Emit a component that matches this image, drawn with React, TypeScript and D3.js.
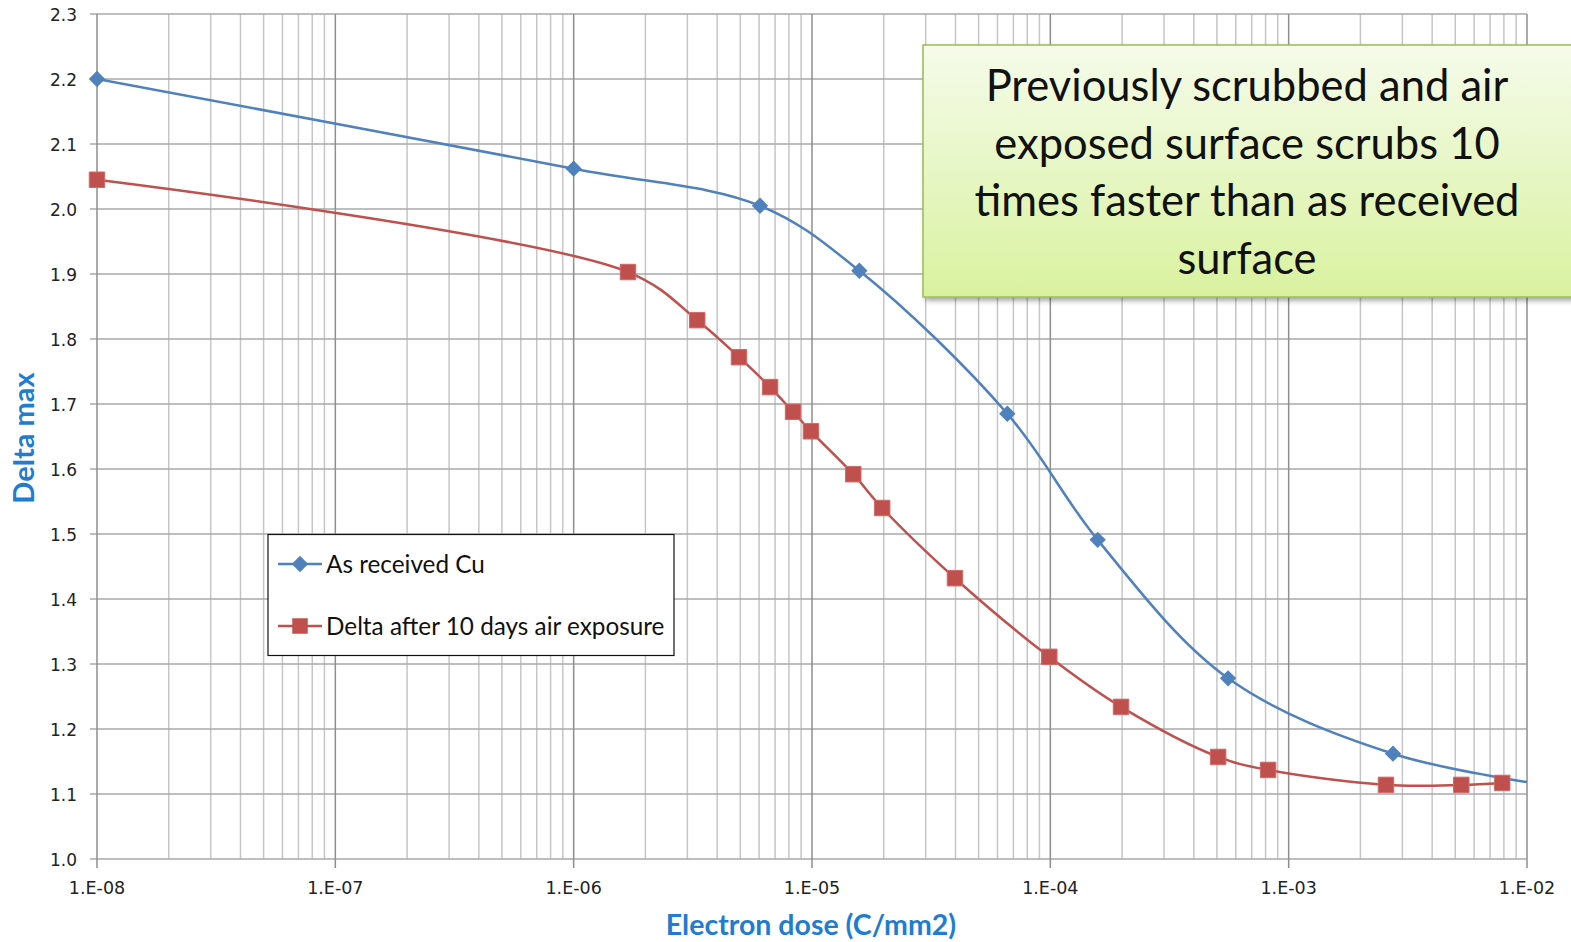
import * as d3 from 'd3';
import { useEffect, useRef } from 'react';

// data
const blueDose = [1e-8, 1e-6, 6.05e-6, 1.58e-5, 6.6e-5, 1.58e-4, 5.57e-4, 2.74e-3, 1.3e-2];
const blueDelta = [2.2, 2.062, 2.005, 1.905, 1.685, 1.491, 1.278, 1.162, 1.112];
const redDose = [1e-8, 1.69e-6, 3.3e-6, 4.94e-6, 6.67e-6, 8.33e-6, 9.9e-6, 1.49e-5, 1.97e-5, 3.98e-5, 9.9e-5, 1.98e-4, 5.06e-4, 8.2e-4, 2.56e-3, 5.3e-3, 7.87e-3];
const redDelta = [2.045, 1.903, 1.829, 1.772, 1.726, 1.688, 1.658, 1.592, 1.54, 1.432, 1.311, 1.234, 1.157, 1.137, 1.114, 1.114, 1.117];
const seriesNames = ['As received Cu', 'Delta after 10 days air exposure'];
const decades = [-8, -7, -6, -5, -4, -3, -2];
const yTicks = d3.range(10, 24).map(v => v / 10);
const noteLines = ['Previously scrubbed and air', 'exposed surface scrubs 10', 'times faster than as received', 'surface'];

const W = 1571, H = 942;
const L = 97, R = 1527, T = 14, B = 859;
const BLUE = '#4f81bd', RED = '#c0504d', TITLE = '#1f7dcf';

const App = () => {
    const svgRef = useRef<SVGSVGElement>(null);

    useEffect(() => {
        const svg = d3.select(svgRef.current);
        svg.selectAll('*').remove();

        const x = d3.scaleLog().domain([1e-8, 1e-2]).range([L, R]);
        const y = d3.scaleLinear().domain([1.0, 2.3]).range([B, T]);

        const defs = svg.append('defs');
        defs.append('clipPath').attr('id', 'plot').append('rect')
            .attr('x', L).attr('y', T).attr('width', R - L).attr('height', B - T);
        const grad = defs.append('linearGradient').attr('id', 'note').attr('x1', 0).attr('y1', 0).attr('x2', 0).attr('y2', 1);
        grad.append('stop').attr('offset', '0%').attr('stop-color', '#f5fbea');
        grad.append('stop').attr('offset', '100%').attr('stop-color', '#d9f29f');
        defs.append('filter').attr('id', 'shadow').attr('x', '-10%').attr('y', '-10%').attr('width', '130%').attr('height', '130%')
            .append('feDropShadow').attr('dx', 3).attr('dy', 3).attr('stdDeviation', 2.5)
            .attr('flood-color', '#000').attr('flood-opacity', 0.35);

        // minor vertical gridlines
        const minors: number[] = [];
        decades.slice(0, -1).forEach(d => {
            for (let k = 2; k <= 9; k++) minors.push(k * Math.pow(10, d));
        });
        svg.append('g').selectAll('line').data(minors).enter().append('line')
            .attr('x1', d => x(d)).attr('x2', d => x(d)).attr('y1', T).attr('y2', B)
            .attr('stroke', '#c6c6c6').attr('stroke-width', 1.5);

        // horizontal gridlines
        svg.append('g').selectAll('line').data(yTicks).enter().append('line')
            .attr('x1', L - 7).attr('x2', R).attr('y1', d => y(d)).attr('y2', d => y(d))
            .attr('stroke', '#a8a8a8').attr('stroke-width', 1.5);

        // major vertical gridlines
        svg.append('g').selectAll('line').data(decades).enter().append('line')
            .attr('x1', d => x(Math.pow(10, d))).attr('x2', d => x(Math.pow(10, d)))
            .attr('y1', T).attr('y2', B + 9)
            .attr('stroke', '#8e8e8e').attr('stroke-width', 1.5);

        // y tick labels
        svg.append('g').selectAll('text').data(yTicks).enter().append('text')
            .attr('x', 77).attr('y', d => y(d) + 6.5)
            .attr('text-anchor', 'end')
            .attr('font-family', 'DejaVu Sans, Verdana, sans-serif').attr('font-size', 17)
            .attr('fill', '#222').text(d => d3.format('.1f')(d));

        // x tick labels
        svg.append('g').selectAll('text').data(decades).enter().append('text')
            .attr('x', d => x(Math.pow(10, d))).attr('y', 894)
            .attr('text-anchor', 'middle')
            .attr('font-family', 'DejaVu Sans, Verdana, sans-serif').attr('font-size', 17.5)
            .attr('fill', '#222').text(d => `1.E${d < 0 ? '-' : '+'}${String(Math.abs(d)).padStart(2, '0')}`);

        // axis titles
        svg.append('text').attr('x', 811).attr('y', 935)
            .attr('text-anchor', 'middle').attr('font-family', 'Lato, sans-serif')
            .attr('font-weight', 'bold').attr('font-size', 28.5).attr('fill', TITLE)
            .text('Electron dose (C/mm2)');
        svg.append('text').attr('transform', `translate(34, 438) rotate(-90)`)
            .attr('text-anchor', 'middle').attr('font-family', 'Lato, sans-serif')
            .attr('font-weight', 'bold').attr('font-size', 29).attr('fill', TITLE)
            .text('Delta max');

        const line = d3.line<[number, number]>()
            .x(d => x(d[0])).y(d => y(d[1]))
            .curve(d3.curveCatmullRom.alpha(0.5));

        const blue = blueDose.map((d, i) => [d, blueDelta[i]] as [number, number]);
        const red = redDose.map((d, i) => [d, redDelta[i]] as [number, number]);

        const lines = svg.append('g').attr('clip-path', 'url(#plot)');
        lines.append('path').attr('d', line(blue)).attr('fill', 'none').attr('stroke', BLUE).attr('stroke-width', 2.5);
        lines.append('path').attr('d', line(red)).attr('fill', 'none').attr('stroke', RED).attr('stroke-width', 2.5);

        const diamond = d3.symbol().type(d3.symbolDiamond2).size(170);
        const square = d3.symbol().type(d3.symbolSquare).size(240);

        svg.append('g').selectAll('path').data(blue.filter(d => d[0] <= 1e-2)).enter().append('path')
            .attr('d', diamond()).attr('transform', d => `translate(${x(d[0])},${y(d[1])})`)
            .attr('fill', BLUE);
        svg.append('g').selectAll('path').data(red).enter().append('path')
            .attr('d', square()).attr('transform', d => `translate(${x(d[0])},${y(d[1])})`)
            .attr('fill', RED).attr('stroke', '#cf6b68').attr('stroke-width', 1);

        // legend
        const lg = svg.append('g');
        lg.append('rect').attr('x', 268).attr('y', 534.5).attr('width', 406).attr('height', 121)
            .attr('fill', '#fff').attr('stroke', '#111').attr('stroke-width', 1.2);
        const entries = [
            { name: seriesNames[0], color: BLUE, sym: diamond, cy: 564 },
            { name: seriesNames[1], color: RED, sym: square, cy: 626 },
        ];
        entries.forEach(e => {
            lg.append('line').attr('x1', 278).attr('x2', 322).attr('y1', e.cy).attr('y2', e.cy)
                .attr('stroke', e.color).attr('stroke-width', 2.5);
            lg.append('path').attr('d', e.sym()).attr('transform', `translate(300,${e.cy})`).attr('fill', e.color);
            lg.append('text').attr('x', 326).attr('y', e.cy + 8.5)
                .attr('font-family', 'Lato, sans-serif').attr('font-size', 24.3).attr('fill', '#111')
                .text(e.name);
        });

        // annotation box
        const note = svg.append('g');
        note.append('rect').attr('x', 923).attr('y', 45).attr('width', 700).attr('height', 252)
            .attr('fill', 'url(#note)').attr('stroke', '#9bbb59').attr('stroke-width', 1.5)
            .attr('filter', 'url(#shadow)');
        note.selectAll('text').data(noteLines).enter().append('text')
            .attr('x', 1247).attr('y', (d, i) => 101 + i * 57.5)
            .attr('text-anchor', 'middle').attr('font-family', 'Lato, sans-serif')
            .attr('font-size', 43.5).attr('fill', '#111').text(d => d);

        return () => {
            svg.selectAll('*').remove();
        };
    }, []);

    return (
        <svg ref={svgRef} width={W} height={H}
            style={{ position: 'absolute', left: 0, top: 0, background: '#fff' }} />
    );
};

export default App;
